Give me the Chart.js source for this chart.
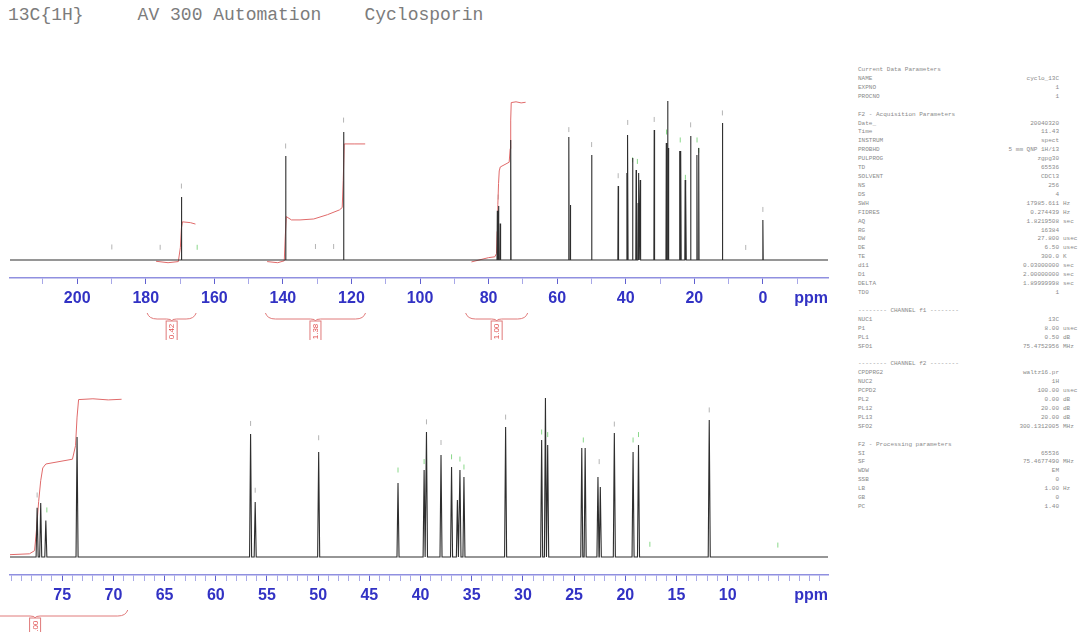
<!DOCTYPE html>
<html>
<head>
<meta charset="utf-8">
<script src="https://cdn.jsdelivr.net/npm/chart.js@4.4.0/dist/chart.umd.min.js"></script>
<style>
  body { margin: 0; background: #fff; width: 1083px; height: 632px; overflow: hidden; position: relative; font-family: "Liberation Mono", "DejaVu Sans Mono", monospace; }
  #title { position: absolute; left: 8px; top: 6px; font-size: 18px; line-height: 18px; color: #7c7c7c; white-space: pre; }
  canvas { position: absolute; left: 0; }
  #top { top: 0; }
  #bottom { top: 340px; }
  #params div { position: absolute; font-size: 6px; line-height: 8px; color: #8a8a8a; white-space: pre; }
</style>
</head>
<body>
<div id="title">13C{1H}     AV 300 Automation    Cyclosporin</div>
<canvas id="top" width="840" height="340"></canvas>
<canvas id="bottom" width="840" height="292"></canvas>
<div id="params"></div>
<script>
// peaks (ppm, height in % of the tallest line)
const peakPpm = [169.6, 139.2, 122.3, 77.45, 77.1, 76.6, 73.55, 56.6, 56.15, 49.95, 42.2, 39.65, 39.42, 38.0, 36.97, 36.4, 36.15, 35.76, 31.69, 28.17, 27.8, 27.58, 24.25, 23.92, 22.67, 22.44, 21.07, 19.24, 18.71, 11.8, 0.0];
const peakHeight = [39.6, 65.4, 80.5, 31, 34, 23, 75.5, 77.4, 34.6, 66, 46.5, 54.7, 78.6, 64.2, 56.6, 35.8, 54.7, 50.3, 81.8, 73.6, 100, 70.4, 68.6, 68.6, 50.3, 44, 78, 66, 70.4, 86.2, 25.2];

// peak pick marks
const topGrayPpm = [189.9, 175.8, 169.6, 139.2, 130.5, 125.2, 122.3, 77.2, 56.6, 49.95, 42.2, 39.42, 31.69, 21.07, 11.8, 5.0, 0.0];
const topGrayLevel = [8.2, 8, 46.5, 71.7, 8.5, 8.5, 88, 39.6, 82, 72.6, 53, 86.5, 88.4, 85, 92.5, 7.9, 31.8];
const topGreenPpm = [165.0, 38.0, 36.6, 28.1, 24.1, 22.6, 19.2, 18.7];
const topGreenLevel = [8, 63, 62, 80.5, 75.5, 52, 75.5, 69];
const bottomGrayPpm = [77.45, 56.6, 56.15, 49.95, 39.42, 38.0, 31.69, 22.55, 21.07, 11.8];
const bottomGrayLevel = [39, 84, 42, 75, 85, 72, 88, 60, 83.6, 92.5];
const bottomGreenPpm = [76.5, 42.2, 39.65, 36.97, 36.15, 35.76, 28.17, 27.58, 24.1, 19.24, 18.71, 17.6, 5.1];
const bottomGreenLevel = [29.6, 54.7, 60, 63, 61.6, 56.6, 78.6, 77, 73.6, 73.6, 77, 8, 7.5];

// integral curves
const int1Ppm = [177, 173.5, 170.5, 169.9, 169.6, 169.3, 167, 165.5];
const int1Val = [-0.8, -1.7, -1, 8, 20, 24, 23.5, 22.6];
const int2Ppm = [144.6, 141.5, 139.6, 139.3, 139.0, 137.5, 135, 131, 127, 123.5, 122.7, 122.4, 122.1, 119, 116];
const int2Val = [-1, -1.7, -0.5, 15, 27.3, 25.2, 25.2, 25.8, 28.5, 31.5, 33, 50, 73, 73, 73];
const int3Ppm = [85, 80, 78.2, 77.7, 77.5, 77.3, 77.1, 76.9, 76.6, 74.0, 73.7, 73.55, 73.4, 72, 70.5, 69.2];
const int3Val = [-1.2, 1.5, 2, 4, 18, 35, 48, 56, 58.5, 61.5, 70, 88, 99, 99.5, 98.8, 99.2];
const bracketFrom = [179.6, 145.1, 86.7];
const bracketTo = [165.3, 115.9, 68.6];
const bracketLabels = ['0.42', '1.38', '1.00'];

// axes
const topTickValues = [210, 200, 190, 180, 170, 160, 150, 140, 130, 120, 110, 100, 90, 80, 70, 60, 50, 40, 30, 20, 10, 0, -10];
const topTickLabels = ['200', '180', '160', '140', '120', '100', '80', '60', '40', '20', '0'];
const bottomTickLabels = ['75', '70', '65', '60', '55', '50', '45', '40', '35', '30', '25', '20', '15', '10'];
const bottomTickValues = [];
for (let v = 80; v >= 1; v--) bottomTickValues.push(v);

const paramLines = [
  ['Current Data Parameters'], ['NAME', 'cyclo_13C'], ['EXPNO', '1'], ['PROCNO', '1'], null,
  ['F2 - Acquisition Parameters'], ['Date_', '20040320'], ['Time', '11.43'], ['INSTRUM', 'spect'],
  ['PROBHD', '5 mm QNP 1H/13'], ['PULPROG', 'zgpg30'], ['TD', '65536'], ['SOLVENT', 'CDCl3'],
  ['NS', '256'], ['DS', '4'], ['SWH', '17985.611', 'Hz'], ['FIDRES', '0.274439', 'Hz'],
  ['AQ', '1.8219508', 'sec'], ['RG', '16384'], ['DW', '27.800', 'usec'], ['DE', '6.50', 'usec'],
  ['TE', '300.0', 'K'], ['d11', '0.03000000', 'sec'], ['D1', '2.00000000', 'sec'],
  ['DELTA', '1.89999998', 'sec'], ['TD0', '1'], null,
  ['-------- CHANNEL f1 --------'], ['NUC1', '13C'], ['P1', '8.00', 'usec'], ['PL1', '0.50', 'dB'],
  ['SFO1', '75.4752956', 'MHz'], null,
  ['-------- CHANNEL f2 --------'], ['CPDPRG2', 'waltz16.pr'], ['NUC2', '1H'], ['PCPD2', '100.00', 'usec'],
  ['PL2', '0.00', 'dB'], ['PL12', '20.00', 'dB'], ['PL13', '20.00', 'dB'], ['SFO2', '300.1312005', 'MHz'], null,
  ['F2 - Processing parameters'], ['SI', '65536'], ['SF', '75.4677490', 'MHz'], ['WDW', 'EM'],
  ['SSB', '0'], ['LB', '1.00', 'Hz'], ['GB', '0'], ['PC', '1.40']
];

const PEAK_HALF_WIDTH = 0.1;

function spectrumTrace() {
  const pts = [{x: 230, y: 0}];
  peakPpm.forEach((p, i) => {
    pts.push({x: p + PEAK_HALF_WIDTH, y: 0}, {x: p, y: peakHeight[i]}, {x: p - PEAK_HALF_WIDTH, y: 0});
  });
  pts.push({x: -30, y: 0});
  return pts;
}

function pairs(xs, ys) {
  return xs.map((x, i) => ({x: x, y: ys[i]}));
}

function makeDatasets(grayPpm, grayLevel, greenPpm, greenLevel, integrals) {
  const ds = [{data: spectrumTrace(), borderColor: '#2e2e2e', borderWidth: 1.1, pointRadius: 0, clip: 0}];
  integrals.forEach(it => {
    ds.push({data: pairs(it[0], it[1]), borderColor: '#e06a6a', borderWidth: 1, pointRadius: 0, clip: 0});
  });
  ds.push({data: pairs(grayPpm, grayLevel), showLine: false, pointStyle: 'line', pointRotation: 90,
    pointRadius: 2.5, pointBorderColor: '#b4b4b4', pointBorderWidth: 1});
  ds.push({data: pairs(greenPpm, greenLevel), showLine: false, pointStyle: 'line', pointRotation: 90,
    pointRadius: 2.5, pointBorderColor: '#8ad88a', pointBorderWidth: 1});
  return ds;
}

function drawBracket(ctx, xa, xb, y0, label) {
  const l = Math.min(xa, xb), r = Math.max(xa, xb), c = (l + r) / 2;
  ctx.beginPath();
  ctx.moveTo(l, y0);
  ctx.quadraticCurveTo(l + 2, y0 + 6, l + 10, y0 + 6);
  ctx.lineTo(c - 5, y0 + 6);
  ctx.quadraticCurveTo(c, y0 + 6, c, y0 + 8);
  ctx.quadraticCurveTo(c, y0 + 6, c + 5, y0 + 6);
  ctx.lineTo(r - 10, y0 + 6);
  ctx.quadraticCurveTo(r - 2, y0 + 6, r, y0);
  ctx.stroke();
  ctx.strokeRect(c - 5.5, y0 + 8, 11, 21);
  ctx.save();
  ctx.translate(c, y0 + 18.5);
  ctx.rotate(-Math.PI / 2);
  ctx.fillText(label, 0, 0.5);
  ctx.restore();
}

const extras = {
  id: 'extras',
  afterDraw(chart, args, opts) {
    const ctx = chart.ctx, area = chart.chartArea, xs = chart.scales.x;
    ctx.save();
    ctx.font = 'bold 16px "Liberation Sans", Arial, sans-serif';
    ctx.fillStyle = '#3232c4';
    ctx.textAlign = 'right';
    ctx.textBaseline = 'middle';
    ctx.fillText('ppm', area.right, area.bottom + 21);
    ctx.strokeStyle = '#e07a7a';
    ctx.fillStyle = '#e05050';
    ctx.lineWidth = 1;
    ctx.font = '8px "Liberation Sans", Arial, sans-serif';
    ctx.textAlign = 'center';
    opts.brackets.forEach(b => {
      drawBracket(ctx, xs.getPixelForValue(b[0]), xs.getPixelForValue(b[1]), area.bottom + 35, b[2]);
    });
    ctx.restore();
  }
};

function makeOptions(xMin, xMax, yMin, yMax, tickValues, tickLabels, padTop, axisHeight, brackets) {
  return {
    responsive: false,
    animation: false,
    devicePixelRatio: 1,
    layout: {padding: {left: 10, right: 12, top: padTop, bottom: 0}},
    plugins: {legend: {display: false}, tooltip: {enabled: false}, extras: {brackets: brackets}},
    scales: {
      x: {
        type: 'linear', reverse: true, min: xMin, max: xMax,
        afterBuildTicks: s => { s.ticks = tickValues.map(v => ({value: v})); },
        afterFit: s => { s.height = axisHeight; },
        ticks: {
          autoSkip: false, maxRotation: 0, padding: 5, color: '#3232c4',
          font: {family: '"Liberation Sans", Arial, sans-serif', size: 16, weight: 'bold'},
          callback: v => tickLabels.includes(String(v)) ? String(v) : ''
        },
        grid: {
          drawOnChartArea: false, drawTicks: true, tickLength: 6,
          color: c => (c.tick && tickLabels.includes(String(c.tick.value))) ? '#6060d0' : '#a8a8e8'
        },
        border: {display: true, color: '#9090e0', width: 1.5}
      },
      y: {display: false, min: yMin, max: yMax}
    }
  };
}

new Chart(document.getElementById('top'), {
  type: 'line',
  data: {datasets: makeDatasets(topGrayPpm, topGrayLevel, topGreenPpm, topGreenLevel,
    [[int1Ppm, int1Val], [int2Ppm, int2Val], [int3Ppm, int3Val]])},
  options: makeOptions(-19, 219.6, -11.32, 106.92, topTickValues, topTickLabels, 90, 62,
    bracketFrom.map((f, i) => [f, bracketTo[i], bracketLabels[i]])),
  plugins: [extras]
});

new Chart(document.getElementById('bottom'), {
  type: 'line',
  data: {datasets: makeDatasets(bottomGrayPpm, bottomGrayLevel, bottomGreenPpm, bottomGreenLevel,
    [[int3Ppm, int3Val]])},
  options: makeOptions(0.2, 80.1, -11.32, 111.32, bottomTickValues, bottomTickLabels, 40, 57,
    [[bracketFrom[2], bracketTo[2], bracketLabels[2]]]),
  plugins: [extras]
});

// acquisition parameter listing
const panel = document.getElementById('params');
function addText(txt, style) {
  const d = document.createElement('div');
  d.textContent = txt;
  Object.assign(d.style, style);
  panel.appendChild(d);
}
paramLines.forEach((row, i) => {
  if (!row) return;
  const top = (66 + i * 8.92) + 'px';
  addText(row[0], {left: '858px', top: top});
  if (row[1]) addText(row[1], {right: '24px', top: top});
  if (row[2]) addText(row[2], {left: '1063px', top: top});
});
</script>
</body>
</html>
